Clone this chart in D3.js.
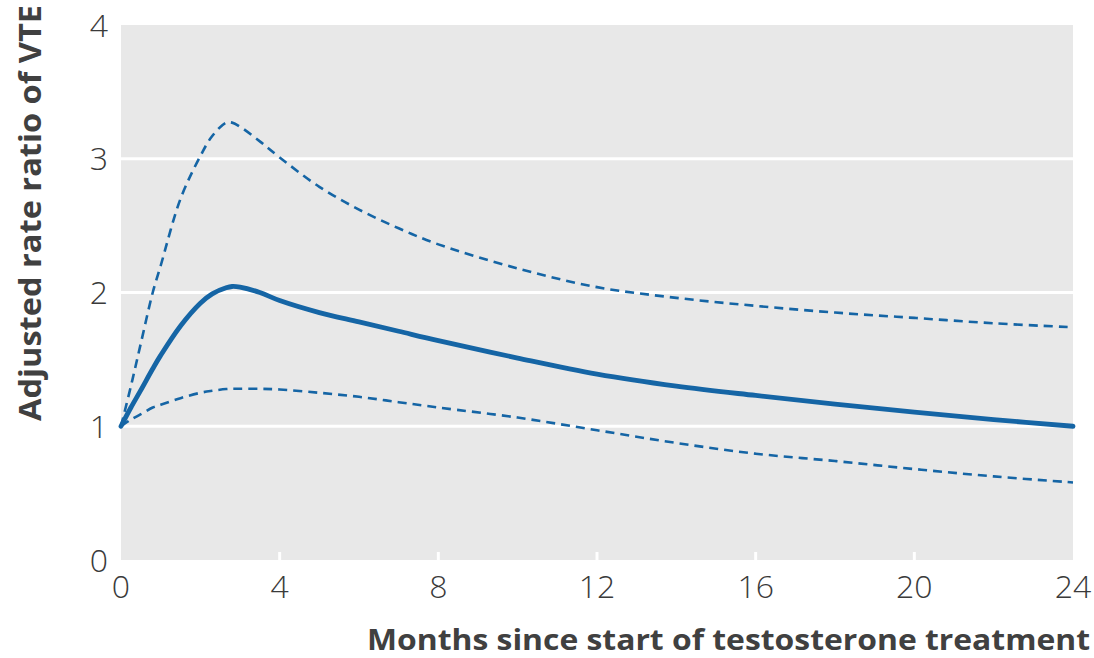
<!DOCTYPE html>
<html>
<head>
<meta charset="utf-8">
<script src="https://cdn.jsdelivr.net/npm/d3@7"></script>
<style>
  body { margin: 0; background: #fff; }
  svg { display: block; font-family: "Open Sans", "Noto Sans", sans-serif; }
  .tick-label { fill: #3a3a3a; font-size: 32px; font-weight: 300; }
  .axis-title { fill: #404040; font-size: 30px; font-weight: 700; }
</style>
</head>
<body>
<svg id="canvas" width="1094" height="658"></svg>
<script>
// Months since start of treatment
var months = [0, 0.25, 0.5, 0.8, 1, 1.5, 2, 2.3, 2.65, 2.8, 3, 3.5, 4, 5, 6, 7, 8, 10, 12, 14, 16, 18, 20, 22, 24];

// Adjusted rate ratio (estimate) and 95% CI bounds
var rateRatio = [1.00, 1.14, 1.27, 1.43, 1.53, 1.75, 1.92, 1.99, 2.035, 2.045, 2.04, 2.00, 1.94, 1.85, 1.78, 1.71, 1.64, 1.51, 1.39, 1.30, 1.23, 1.165, 1.105, 1.05, 1.00];
var upperCI = [1.00, 1.30, 1.62, 2.00, 2.20, 2.70, 3.02, 3.17, 3.27, 3.27, 3.24, 3.13, 3.01, 2.79, 2.62, 2.48, 2.36, 2.18, 2.04, 1.96, 1.90, 1.85, 1.81, 1.77, 1.74];
var lowerCI = [1.00, 1.05, 1.09, 1.14, 1.16, 1.21, 1.25, 1.265, 1.278, 1.28, 1.28, 1.28, 1.275, 1.25, 1.22, 1.18, 1.14, 1.065, 0.97, 0.875, 0.795, 0.74, 0.68, 0.625, 0.58];

var xTicks = [0, 4, 8, 12, 16, 20, 24];
var yTicks = [0, 1, 2, 3, 4];

var margin = { top: 25, right: 21, bottom: 98, left: 121 };
var width = 1094, height = 658;
var canvas = d3.select('#canvas');

var x = d3.scaleLinear().domain([0, 24]).range([margin.left, width - margin.right]);
var y = d3.scaleLinear().domain([0, 4]).range([height - margin.bottom, margin.top]);

// Plot background
canvas.append('rect')
  .attr('x', x(0))
  .attr('y', y(4))
  .attr('width', x(24) - x(0))
  .attr('height', y(0) - y(4))
  .attr('fill', '#e8e8e8');

// Horizontal white gridlines
canvas.append('g')
  .selectAll('line')
  .data(yTicks.filter(function (d) { return d > 0 && d < 4; }))
  .enter()
  .append('line')
  .attr('x1', x(0))
  .attr('x2', x(24))
  .attr('y1', function (d) { return y(d); })
  .attr('y2', function (d) { return y(d); })
  .attr('stroke', '#fff')
  .attr('stroke-width', 3);

// Small white tick marks on bottom edge
canvas.append('g')
  .selectAll('line')
  .data(xTicks.filter(function (d) { return d > 0 && d < 24; }))
  .enter()
  .append('line')
  .attr('x1', function (d) { return x(d); })
  .attr('x2', function (d) { return x(d); })
  .attr('y1', y(0))
  .attr('y2', y(0) - 8)
  .attr('stroke', '#fff')
  .attr('stroke-width', 3);

// Tick labels
canvas.append('g')
  .selectAll('text')
  .data(yTicks)
  .enter()
  .append('text')
  .attr('class', 'tick-label')
  .attr('x', 108)
  .attr('y', function (d) { return y(d); })
  .attr('dy', '0.36em')
  .attr('text-anchor', 'end')
  .text(function (d) { return d; });

canvas.append('g')
  .selectAll('text')
  .data(xTicks)
  .enter()
  .append('text')
  .attr('class', 'tick-label')
  .attr('x', function (d) { return x(d); })
  .attr('y', 598)
  .attr('text-anchor', 'middle')
  .text(function (d) { return d; });

// Axis titles
canvas.append('text')
  .attr('class', 'axis-title')
  .attr('x', 1090)
  .attr('y', 650)
  .attr('text-anchor', 'end')
  .attr('textLength', 723)
  .attr('lengthAdjust', 'spacingAndGlyphs')
  .style('font-size', '29px')
  .text('Months since start of testosterone treatment');

canvas.append('text')
  .attr('class', 'axis-title')
  .attr('transform', 'translate(41,5) rotate(-90)')
  .attr('text-anchor', 'end')
  .attr('textLength', 416)
  .attr('lengthAdjust', 'spacingAndGlyphs')
  .text('Adjusted rate ratio of VTE');

// Lines
function makeLine(values) {
  return d3.line()
    .x(function (d, i) { return x(months[i]); })
    .y(function (d) { return y(d); })
    .curve(d3.curveCatmullRom.alpha(0.5))(values);
}

var BLUE = '#1565a5';

[upperCI, lowerCI].forEach(function (series) {
  canvas.append('path')
    .attr('d', makeLine(series))
    .attr('fill', 'none')
    .attr('stroke', BLUE)
    .attr('stroke-width', 2.6)
    .attr('stroke-dasharray', '9,6');
});

canvas.append('path')
  .attr('d', makeLine(rateRatio))
  .attr('fill', 'none')
  .attr('stroke', BLUE)
  .attr('stroke-width', 4.8)
  .attr('stroke-linecap', 'round');
</script>
</body>
</html>
